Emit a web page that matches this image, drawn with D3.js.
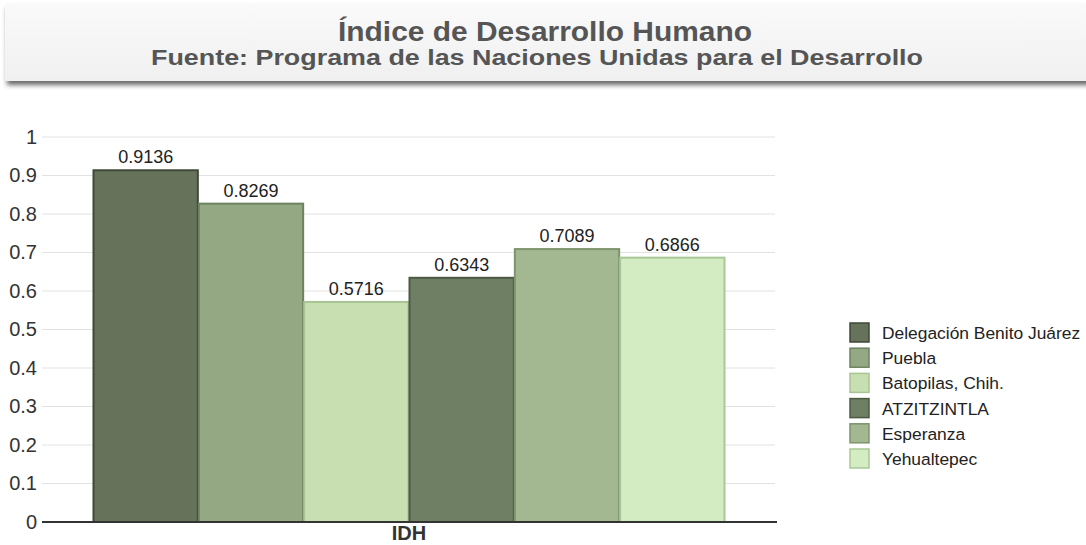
<!DOCTYPE html>
<html><head><meta charset="utf-8">
<script src="https://cdn.jsdelivr.net/npm/d3@7"></script>
<style>
html,body{margin:0;padding:0;background:#fff;overflow:hidden;}
svg{display:block;font-family:"Liberation Sans",Arial,sans-serif;}
</style></head>
<body>
<script>
const title = "Índice de Desarrollo Humano";
const subtitle = "Fuente: Programa de las Naciones Unidas para el Desarrollo";
const category = "IDH";
const seriesNames = ["Delegación Benito Juárez","Puebla","Batopilas, Chih.","ATZITZINTLA","Esperanza","Yehualtepec"];
const seriesValues = [0.9136,0.8269,0.5716,0.6343,0.7089,0.6866];
const valueLabels = ["0.9136","0.8269","0.5716","0.6343","0.7089","0.6866"];
const yTicks = [0,0.1,0.2,0.3,0.4,0.5,0.6,0.7,0.8,0.9,1];
const fills = ["#66725a","#94a884","#c7dfb1","#6e7f64","#a3b791","#d4ecc1"];
const strokes = ["#3e4937","#6c8260","#a8c394","#4c5a44","#7d946d","#a9c798"];

const W=1086,H=545;
const svg=d3.select("body").append("svg").attr("width",W).attr("height",H);
const defs=svg.append("defs");
const f=defs.append("filter").attr("id","sh").attr("x","-5%").attr("y","-20%").attr("width","110%").attr("height","160%");
f.append("feGaussianBlur").attr("in","SourceAlpha").attr("stdDeviation","2.5");
f.append("feOffset").attr("dx","2").attr("dy","4").attr("result","b");
f.append("feComponentTransfer").append("feFuncA").attr("type","linear").attr("slope","0.6");
const m=f.append("feMerge");m.append("feMergeNode");m.append("feMergeNode").attr("in","SourceGraphic");
const g=defs.append("linearGradient").attr("id","tg").attr("x1",0).attr("y1",0).attr("x2",0).attr("y2",1);
g.append("stop").attr("offset","0").attr("stop-color","#fafafa");
g.append("stop").attr("offset","1").attr("stop-color","#f0f0f0");

svg.append("rect").attr("x",5).attr("y",4).attr("width",1090).attr("height",77)
  .attr("fill","url(#tg)").attr("filter","url(#sh)");
svg.append("text").attr("x",545).attr("y",41).attr("text-anchor","middle")
  .attr("font-size",28).attr("font-weight","bold").attr("fill","#555")
  .attr("textLength",414).attr("lengthAdjust","spacingAndGlyphs").text(title);
svg.append("text").attr("x",537).attr("y",65).attr("text-anchor","middle")
  .attr("font-size",22).attr("font-weight","bold").attr("fill","#555")
  .attr("textLength",772).attr("lengthAdjust","spacingAndGlyphs").text(subtitle);

const pL=42,pR=777,pT=137,pB=522;
const y=d3.scaleLinear().domain([0,1]).range([pB,pT]);
const gx=d3.scaleBand().domain(seriesNames).range([93,725]);

// gridlines
svg.append("g").selectAll("line").data(yTicks.filter(d=>d>0)).join("line")
  .attr("x1",pL).attr("x2",pR-2).attr("y1",d=>y(d)).attr("y2",d=>y(d))
  .attr("stroke","#e2e2e2").attr("stroke-width",1);

// y axis
const ya=svg.append("g").attr("transform",`translate(${pL},0)`)
  .call(d3.axisLeft(y).tickValues(yTicks).tickFormat(d3.format("~g")).tickSize(0).tickPadding(5));
ya.select(".domain").remove();
ya.selectAll("text").attr("font-size",20).attr("fill","#333").attr("font-family","'Liberation Sans',Arial,sans-serif");

// bars
svg.append("g").selectAll("rect").data(seriesValues).join("rect")
  .attr("x",(d,i)=>gx(seriesNames[i])+0.5).attr("y",d=>y(d))
  .attr("width",gx.bandwidth()-1).attr("height",d=>pB-y(d))
  .attr("fill",(d,i)=>fills[i]).attr("stroke",(d,i)=>strokes[i]).attr("stroke-width",2);

svg.append("g").selectAll("text").data(seriesValues).join("text")
  .attr("x",(d,i)=>gx(seriesNames[i])+gx.bandwidth()/2).attr("y",d=>y(d)-7)
  .attr("text-anchor","middle").attr("font-size",18).attr("fill","#222")
  .text((d,i)=>valueLabels[i]);

// x axis
const xa=svg.append("g").attr("transform",`translate(0,${pB})`)
  .call(d3.axisBottom(d3.scaleBand().domain([category]).range([93,725])).tickSize(0).tickPadding(4));
xa.select(".domain").remove();
xa.selectAll("text").attr("font-size",20).attr("font-weight","bold").attr("fill","#333")
  .attr("font-family","'Liberation Sans',Arial,sans-serif");
svg.append("line").attr("x1",pL).attr("x2",pR).attr("y1",pB).attr("y2",pB)
  .attr("stroke","#333").attr("stroke-width",2);

// legend
const lg=svg.append("g");
const row=lg.selectAll("g").data(seriesNames).join("g")
  .attr("transform",(d,i)=>`translate(850,${323+i*25.2})`);
row.append("rect").attr("x",0).attr("y",0).attr("width",19).attr("height",19)
  .attr("fill",(d,i)=>fills[i]).attr("stroke",(d,i)=>strokes[i]).attr("stroke-width",1.5);
row.append("text").attr("x",32).attr("y",16).attr("font-size",17.4).attr("fill","#222").text(d=>d);
</script>
</body></html>
